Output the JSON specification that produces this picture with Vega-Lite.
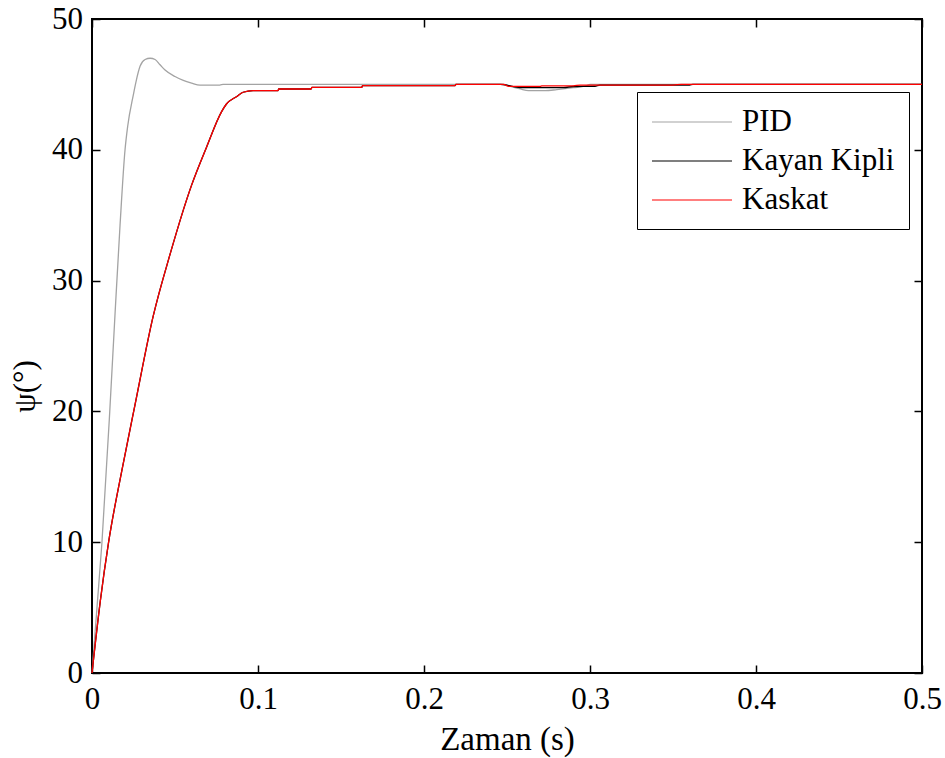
{
  "$schema": "https://vega.github.io/schema/vega-lite/v6.json",
  "width": 830,
  "height": 654,
  "autosize": "none",
  "padding": {"left": 92, "top": 19, "right": 23, "bottom": 85},
  "background": "white",
  "config": {
    "view": {"stroke": "black", "strokeWidth": 2},
    "font": "Liberation Serif",
    "axis": {"domain": false, "grid": false, "labelFlush": false, "tickColor": "black", "tickWidth": 1.5, "tickSize": -8, "labelColor": "black", "titleColor": "black", "labelFont": "Liberation Serif", "titleFont": "Liberation Serif", "labelFontSize": 31, "titleFontSize": 33, "titleFontWeight": "normal"}
  },
  "datasets": {
    "curves": [
      {"t": 0, "v": 0, "series": "PID"},
      {"t": 0.003, "v": 5, "series": "PID"},
      {"t": 0.006, "v": 10, "series": "PID"},
      {"t": 0.0107, "v": 20, "series": "PID"},
      {"t": 0.0139, "v": 27.5, "series": "PID"},
      {"t": 0.0169, "v": 34.25, "series": "PID"},
      {"t": 0.0199, "v": 40, "series": "PID"},
      {"t": 0.0215, "v": 41.8, "series": "PID"},
      {"t": 0.0249, "v": 44.2, "series": "PID"},
      {"t": 0.0265, "v": 45.2, "series": "PID"},
      {"t": 0.029, "v": 46.4, "series": "PID"},
      {"t": 0.032, "v": 46.9, "series": "PID"},
      {"t": 0.035, "v": 47.0, "series": "PID"},
      {"t": 0.038, "v": 46.9, "series": "PID"},
      {"t": 0.041, "v": 46.5, "series": "PID"},
      {"t": 0.044, "v": 46.1, "series": "PID"},
      {"t": 0.05, "v": 45.6, "series": "PID"},
      {"t": 0.055, "v": 45.3, "series": "PID"},
      {"t": 0.06, "v": 45.1, "series": "PID"},
      {"t": 0.065, "v": 44.95, "series": "PID"},
      {"t": 0.077, "v": 44.95, "series": "PID"},
      {"t": 0.079, "v": 45.0, "series": "PID"},
      {"t": 0.248, "v": 45.0, "series": "PID"},
      {"t": 0.252, "v": 44.85, "series": "PID"},
      {"t": 0.258, "v": 44.65, "series": "PID"},
      {"t": 0.263, "v": 44.52, "series": "PID"},
      {"t": 0.273, "v": 44.52, "series": "PID"},
      {"t": 0.28, "v": 44.6, "series": "PID"},
      {"t": 0.29, "v": 44.75, "series": "PID"},
      {"t": 0.298, "v": 44.9, "series": "PID"},
      {"t": 0.3, "v": 45.0, "series": "PID"},
      {"t": 0.5, "v": 45.0, "series": "PID"},

      {"t": 0, "v": 0, "series": "Kayan Kipli"},
      {"t": 0.005, "v": 5.5, "series": "Kayan Kipli"},
      {"t": 0.01, "v": 10, "series": "Kayan Kipli"},
      {"t": 0.018, "v": 15.5, "series": "Kayan Kipli"},
      {"t": 0.0259, "v": 20.5, "series": "Kayan Kipli"},
      {"t": 0.0369, "v": 27.3, "series": "Kayan Kipli"},
      {"t": 0.047, "v": 32, "series": "Kayan Kipli"},
      {"t": 0.06, "v": 37.3, "series": "Kayan Kipli"},
      {"t": 0.069, "v": 40.2, "series": "Kayan Kipli"},
      {"t": 0.078, "v": 42.9, "series": "Kayan Kipli"},
      {"t": 0.081, "v": 43.5, "series": "Kayan Kipli"},
      {"t": 0.087, "v": 44.06, "series": "Kayan Kipli"},
      {"t": 0.091, "v": 44.4, "series": "Kayan Kipli"},
      {"t": 0.097, "v": 44.52, "series": "Kayan Kipli"},
      {"t": 0.112, "v": 44.52, "series": "Kayan Kipli"},
      {"t": 0.1125, "v": 44.65, "series": "Kayan Kipli"},
      {"t": 0.132, "v": 44.65, "series": "Kayan Kipli"},
      {"t": 0.1325, "v": 44.78, "series": "Kayan Kipli"},
      {"t": 0.1625, "v": 44.78, "series": "Kayan Kipli"},
      {"t": 0.163, "v": 44.9, "series": "Kayan Kipli"},
      {"t": 0.2187, "v": 44.9, "series": "Kayan Kipli"},
      {"t": 0.2192, "v": 45.0, "series": "Kayan Kipli"},
      {"t": 0.246, "v": 45.0, "series": "Kayan Kipli"},
      {"t": 0.258, "v": 44.76, "series": "Kayan Kipli"},
      {"t": 0.284, "v": 44.76, "series": "Kayan Kipli"},
      {"t": 0.29, "v": 44.84, "series": "Kayan Kipli"},
      {"t": 0.303, "v": 44.86, "series": "Kayan Kipli"},
      {"t": 0.306, "v": 44.95, "series": "Kayan Kipli"},
      {"t": 0.36, "v": 44.95, "series": "Kayan Kipli"},
      {"t": 0.362, "v": 45.0, "series": "Kayan Kipli"},
      {"t": 0.5, "v": 45.0, "series": "Kayan Kipli"},

      {"t": 0, "v": 0, "series": "Kaskat"},
      {"t": 0.005, "v": 5.5, "series": "Kaskat"},
      {"t": 0.01, "v": 10, "series": "Kaskat"},
      {"t": 0.018, "v": 15.5, "series": "Kaskat"},
      {"t": 0.0259, "v": 20.5, "series": "Kaskat"},
      {"t": 0.0369, "v": 27.3, "series": "Kaskat"},
      {"t": 0.047, "v": 32, "series": "Kaskat"},
      {"t": 0.06, "v": 37.3, "series": "Kaskat"},
      {"t": 0.069, "v": 40.2, "series": "Kaskat"},
      {"t": 0.078, "v": 42.9, "series": "Kaskat"},
      {"t": 0.081, "v": 43.5, "series": "Kaskat"},
      {"t": 0.087, "v": 44.06, "series": "Kaskat"},
      {"t": 0.091, "v": 44.4, "series": "Kaskat"},
      {"t": 0.097, "v": 44.52, "series": "Kaskat"},
      {"t": 0.112, "v": 44.52, "series": "Kaskat"},
      {"t": 0.1125, "v": 44.65, "series": "Kaskat"},
      {"t": 0.132, "v": 44.65, "series": "Kaskat"},
      {"t": 0.1325, "v": 44.78, "series": "Kaskat"},
      {"t": 0.1625, "v": 44.78, "series": "Kaskat"},
      {"t": 0.163, "v": 44.9, "series": "Kaskat"},
      {"t": 0.2187, "v": 44.9, "series": "Kaskat"},
      {"t": 0.2192, "v": 45.0, "series": "Kaskat"},
      {"t": 0.248, "v": 45.0, "series": "Kaskat"},
      {"t": 0.251, "v": 44.85, "series": "Kaskat"},
      {"t": 0.27, "v": 44.85, "series": "Kaskat"},
      {"t": 0.271, "v": 44.89, "series": "Kaskat"},
      {"t": 0.29, "v": 44.89, "series": "Kaskat"},
      {"t": 0.294, "v": 44.95, "series": "Kaskat"},
      {"t": 0.35, "v": 44.95, "series": "Kaskat"},
      {"t": 0.355, "v": 45.0, "series": "Kaskat"},
      {"t": 0.5, "v": 45.0, "series": "Kaskat"}
    ]
  },
  "data": {"name": "curves"},
  "layer": [
    {
      "encoding": {
        "x": {"field": "t", "type": "quantitative", "scale": {"domain": [0, 0.5], "nice": false, "zero": false},
          "axis": {"values": [0, 0.1, 0.2, 0.3, 0.4, 0.5], "format": "~g", "title": "Zaman (s)", "labelPadding": 19, "titlePadding": 9}},
        "y": {"field": "v", "type": "quantitative", "scale": {"domain": [0, 50], "nice": false},
          "axis": {"values": [0, 10, 20, 30, 40, 50], "title": "ψ(°)", "labelPadding": 17.5, "titleX": -67, "titleY": 367, "titleAngle": 270, "titleAlign": "center", "titleBaseline": "middle", "titleFontSize": 31}},
        "color": {"field": "series", "type": "nominal",
          "scale": {"domain": ["PID", "Kayan Kipli", "Kaskat"], "range": ["#a3a3a3", "#000000", "#ff0000"]},
          "legend": {"title": null, "orient": "none", "legendX": 545, "legendY": 73, "symbolType": "M-1,0H4.333", "symbolSize": 900, "symbolStrokeWidth": 1.2,
            "labelFont": "Liberation Serif", "labelFontSize": 31, "labelColor": "black", "labelOffset": 59, "rowPadding": 8,
            "padding": 14, "strokeColor": "black", "fillColor": "white", "labelLimit": 400}}
      },
      "layer": [
        {"transform": [{"filter": "datum.series === 'PID'"}], "mark": {"type": "line", "strokeWidth": 1.3, "interpolate": "monotone"}},
        {"transform": [{"filter": "datum.series === 'Kayan Kipli'"}], "mark": {"type": "line", "strokeWidth": 1.3, "interpolate": "monotone"}},
        {"transform": [{"filter": "datum.series === 'Kaskat'"}], "mark": {"type": "line", "strokeWidth": 1.3, "interpolate": "monotone"}}
      ]
    },
    {
      "mark": {"type": "line", "strokeOpacity": 0},
      "encoding": {
        "detail": {"field": "series"},
        "x": {"field": "t", "type": "quantitative", "axis": {"orient": "top", "values": [0, 0.1, 0.2, 0.3, 0.4, 0.5], "labels": false, "title": null}},
        "y": {"field": "v", "type": "quantitative", "axis": {"orient": "right", "values": [0, 10, 20, 30, 40, 50], "labels": false, "title": null}}
      }
    }
  ],
  "resolve": {"axis": {"x": "independent", "y": "independent"}}
}
